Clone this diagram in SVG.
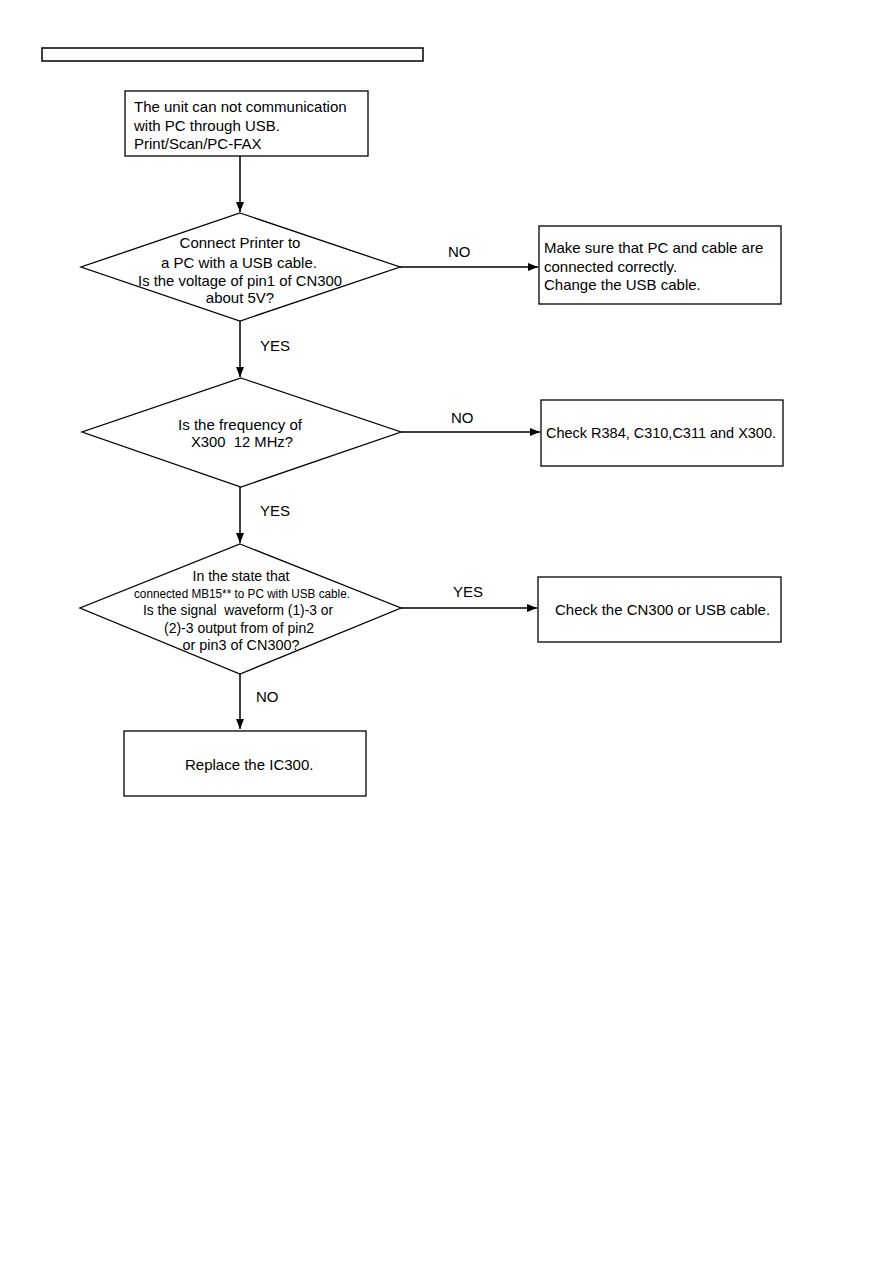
<svg xmlns="http://www.w3.org/2000/svg" width="893" height="1263" viewBox="0 0 893 1263">
<defs>
<marker id="ah" markerWidth="10" markerHeight="8" refX="10" refY="4" orient="auto" markerUnits="userSpaceOnUse">
<path d="M0,0 L10,4 L0,8 Z" fill="#000"/>
</marker>
<style>
.box{fill:#fff;stroke:#000;stroke-width:1.3}
.t{font-family:"Liberation Sans",Arial,sans-serif;font-size:15px;fill:#000}
.c{text-anchor:middle}
.s{font-size:12px}
.ln{stroke:#000;stroke-width:1.5;fill:none;marker-end:url(#ah)}
</style>
</defs>
<rect width="893" height="1263" fill="#fff"/>
<rect x="42" y="48" width="381" height="13" fill="none" stroke="#000" stroke-width="1.5"/>
<g id="connectors">
<line class="ln" x1="240" y1="156" x2="240" y2="212"/>
<line class="ln" x1="400" y1="267" x2="538" y2="267"/>
<text class="t" x="448" y="257">NO</text>
<line class="ln" x1="240" y1="321" x2="240" y2="377"/>
<text class="t" x="260" y="351">YES</text>
<line class="ln" x1="401" y1="432" x2="540" y2="432"/>
<text class="t" x="451" y="423">NO</text>
<line class="ln" x1="240" y1="487" x2="240" y2="543"/>
<text class="t" x="260" y="516">YES</text>
<line class="ln" x1="401" y1="608" x2="537" y2="608"/>
<text class="t" x="453" y="597">YES</text>
<line class="ln" x1="240" y1="674" x2="240" y2="729"/>
<text class="t" x="256" y="702">NO</text>
</g>
<g id="start">
<rect class="box" x="125" y="91" width="243" height="65"/>
<text class="t" x="134" y="112">The unit can not communication</text>
<text class="t" x="134" y="131">with PC through USB.</text>
<text class="t" x="134" y="149">Print/Scan/PC-FAX</text>
</g>
<g id="d1">
<polygon class="box" points="240,213 400,267 240,321 81,267"/>
<text class="t c" x="240" y="248">Connect Printer to</text>
<text class="t c" x="239" y="268">a PC with a USB cable.</text>
<text class="t c" x="240" y="286" textLength="204" lengthAdjust="spacingAndGlyphs">Is the voltage of pin1 of CN300</text>
<text class="t c" x="240" y="303">about 5V?</text>
</g>
<g id="b2">
<rect class="box" x="539" y="226" width="242" height="78"/>
<text class="t" x="544" y="253">Make sure that PC and cable are</text>
<text class="t" x="544" y="272">connected correctly.</text>
<text class="t" x="544" y="290">Change the USB cable.</text>
</g>
<g id="d2">
<polygon class="box" points="241,378 401,432 241,487 82,432"/>
<text class="t c" x="240" y="430" textLength="124" lengthAdjust="spacingAndGlyphs">Is the frequency of</text>
<text class="t c" x="242" y="447" textLength="102" lengthAdjust="spacingAndGlyphs" xml:space="preserve">X300  12 MHz?</text>
</g>
<g id="b3">
<rect class="box" x="541" y="400" width="242" height="66"/>
<text class="t" x="546" y="438" textLength="230" lengthAdjust="spacingAndGlyphs">Check R384, C310,C311 and X300.</text>
</g>
<g id="d3">
<polygon class="box" points="240,544 401,608 240,674 80,608"/>
<text class="t c" x="241" y="581" textLength="97" lengthAdjust="spacingAndGlyphs">In the state that</text>
<text class="t c s" x="242" y="598" textLength="216" lengthAdjust="spacingAndGlyphs">connected MB15** to PC with USB cable.</text>
<text class="t c" x="238" y="615" textLength="190" lengthAdjust="spacingAndGlyphs" xml:space="preserve">Is the signal  waveform (1)-3 or</text>
<text class="t c" x="239" y="633" textLength="150" lengthAdjust="spacingAndGlyphs">(2)-3 output from of pin2</text>
<text class="t c" x="241" y="650" textLength="117" lengthAdjust="spacingAndGlyphs">or pin3 of CN300?</text>
</g>
<g id="b4">
<rect class="box" x="538" y="577" width="243" height="65"/>
<text class="t" x="555" y="615">Check the CN300 or USB cable.</text>
</g>
<g id="b5">
<rect class="box" x="124" y="731" width="242" height="65"/>
<text class="t" x="185" y="770">Replace the IC300.</text>
</g>
</svg>
